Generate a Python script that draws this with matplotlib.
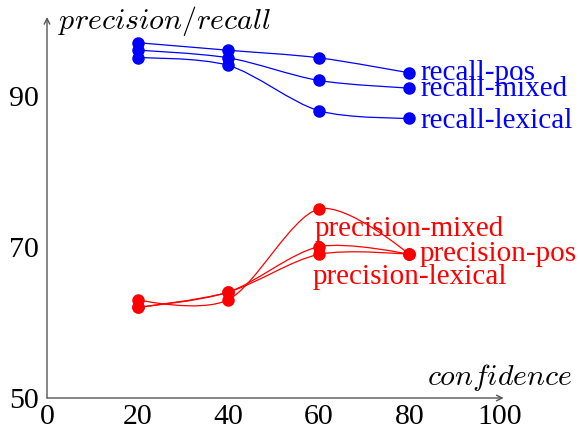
import matplotlib
matplotlib.use("Agg")
import matplotlib.pyplot as plt
from matplotlib.path import Path
from matplotlib.patches import PathPatch
import numpy as np

# confidence thresholds
confidence = [20, 40, 60, 80]

# recall series
recall_pos = [97, 96, 95, 93]
recall_mixed = [96, 95, 92, 91]
recall_lexical = [95, 94, 88, 87]

# precision series
precision_mixed = [63, 63, 75, 69]
precision_pos = [62, 64, 70, 69]
precision_lexical = [62, 64, 69, 69]

xticks = [0, 20, 40, 60, 80, 100]
yticks = [50, 70, 90]

plt.rcParams['font.family'] = ['Liberation Serif', 'DejaVu Serif']
plt.rcParams['mathtext.fontset'] = 'cm'

BLUE = (0, 0, 1)
RED = (1, 0, 0)


def smooth_path(xs, ys, tension=0.55):
    # tikz-like "smooth" curve through the points
    p = np.column_stack([xs, ys]).astype(float)
    f = tension * 0.2775
    n = len(p)
    verts = [p[0]]
    codes = [Path.MOVETO]
    for i in range(n - 1):
        if i == 0:
            c1 = p[0]
        else:
            c1 = p[i] + f * (p[i + 1] - p[i - 1])
        if i + 1 == n - 1:
            c2 = p[n - 1]
        else:
            c2 = p[i + 1] - f * (p[i + 2] - p[i])
        verts += [c1, c2, p[i + 1]]
        codes += [Path.CURVE4] * 3
    return Path(verts, codes)


fig = plt.figure(figsize=(5.8, 4.33), dpi=100)
ax = fig.add_axes([47 / 580, 35 / 433, 453 / 580, 378 / 433])
ax.set_xlim(0, 100)
ax.set_ylim(50, 100)

for s in ax.spines.values():
    s.set_visible(False)

axis_col = '#555555'
ax.annotate('', xy=(1.008, 0), xytext=(0, 0), xycoords='axes fraction',
            arrowprops=dict(arrowstyle='->', color=axis_col, lw=1.0, shrinkA=0, shrinkB=0))
ax.annotate('', xy=(0, 1.008), xytext=(0, 0), xycoords='axes fraction',
            arrowprops=dict(arrowstyle='->', color=axis_col, lw=1.0, shrinkA=0, shrinkB=0))

ax.set_xticks(xticks)
ax.set_yticks(yticks)
ax.tick_params(length=0, labelsize=21.5, pad=4)
ax.tick_params(axis='y', pad=6)

series = [
    (recall_pos, BLUE), (recall_mixed, BLUE), (recall_lexical, BLUE),
    (precision_mixed, RED), (precision_pos, RED), (precision_lexical, RED),
]
for ys, col in series:
    ax.add_patch(PathPatch(smooth_path(confidence, ys), facecolor='none',
                           edgecolor=col, lw=0.9))
    ax.plot(confidence, ys, 'o', color=col, ms=8, mec=col)

fs = 21
last = confidence[-1]
ax.annotate('recall-pos', (last, recall_pos[-1]), xytext=(8, 0), textcoords='offset points',
            ha='left', va='center', color=BLUE, fontsize=fs)
ax.annotate('recall-mixed', (last, recall_mixed[-1]), xytext=(8, -1), textcoords='offset points',
            ha='left', va='center', color=BLUE, fontsize=fs)
ax.annotate('recall-lexical', (last, recall_lexical[-1]), xytext=(8, -2), textcoords='offset points',
            ha='left', va='center', color=BLUE, fontsize=fs)
ax.annotate('precision-mixed', (last, precision_mixed[-1]), xytext=(0, 18), textcoords='offset points',
            ha='center', va='center', color=RED, fontsize=fs)
ax.annotate('precision-pos', (last, precision_pos[-1]), xytext=(7, 0), textcoords='offset points',
            ha='left', va='center', color=RED, fontsize=fs)
ax.annotate('precision-lexical', (last, precision_lexical[-1]), xytext=(0, -16), textcoords='offset points',
            ha='center', va='center', color=RED, fontsize=fs)

ax.annotate('$precision/recall$', (0, 100), xytext=(8, -1), textcoords='offset points',
            ha='left', va='center', fontsize=21.5, annotation_clip=False)
ax.annotate('$confidence$', (100, 50), xytext=(52, 15), textcoords='offset points',
            ha='right', va='center', fontsize=21.5, annotation_clip=False)

fig.savefig('out.png', dpi=100)
